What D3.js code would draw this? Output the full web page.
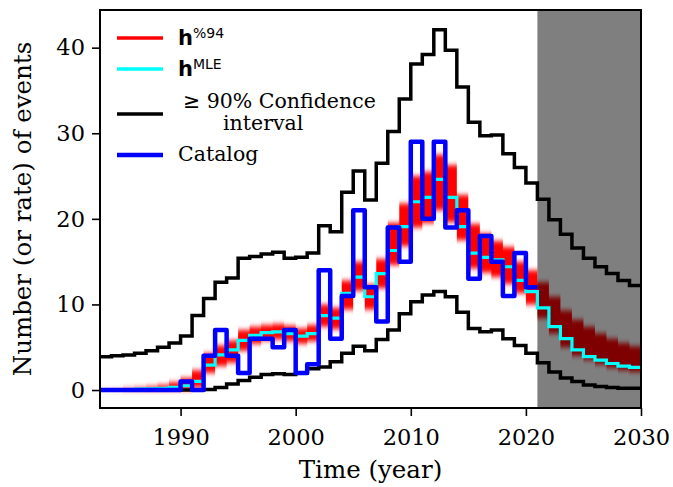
<!DOCTYPE html>
<html>
<head>
<meta charset="utf-8">
<script src="https://cdn.jsdelivr.net/npm/d3@7"></script>
<style>
  body { margin: 0; background: #fff; }
  svg text { fill: #000; }
  .serif { font-family: "DejaVu Serif", serif; }
  .sans { font-family: "DejaVu Sans", sans-serif; }
</style>
</head>
<body>
<svg id="chart" width="673" height="487"></svg>
<script>
// yearly bins, 1983 .. 2029 (last step runs to 2030)
const years = d3.range(1983, 2030);

const upperCI = [3.9, 4.0, 4.1, 4.3, 4.6, 5.0, 5.5, 6.3, 8.7, 10.7,
  12.6, 13.1, 15.4, 15.6, 15.9, 16.1, 15.4, 15.5, 16.0, 19.2,
  18.5, 23.1, 25.6, 22.2, 26.5, 30.2, 34.0, 38.1, 39.2, 42.1,
  39.7, 35.4, 31.3, 29.7, 29.8, 27.6, 26.0, 24.2, 22.3, 19.9,
  18.2, 16.6, 15.4, 14.4, 13.6, 12.8, 12.2];

const lowerCI = [0, 0, 0, 0, 0, 0, 0, 0, 0, 0.05,
  0.3, 0.7, 1.1, 1.5, 1.8, 1.9, 1.8, 2.0, 2.5, 2.7,
  3.3, 4.3, 5.1, 4.6, 5.9, 7.0, 8.9, 10.3, 11.1, 11.5,
  10.9, 9.1, 7.2, 6.8, 7.0, 6.0, 5.2, 4.3, 3.2, 2.1,
  1.4, 1.0, 0.6, 0.4, 0.3, 0.2, 0.2];

const mle = [0, 0, 0.05, 0.1, 0.15, 0.2, 0.3, 0.5, 1.0, 2.9,
  4.1, 4.7, 5.8, 6.4, 6.7, 6.8, 6.6, 6.3, 6.6, 8.7,
  8.4, 11.3, 13.2, 10.9, 13.6, 16.3, 19.1, 22.0, 22.5, 24.6,
  22.5, 19.1, 16.0, 15.5, 15.2, 14.4, 12.8, 11.5, 9.6, 7.4,
  6.0, 4.7, 3.9, 3.5, 3.1, 2.8, 2.65];

// spread of the sampled rates (h %94)
const bandHi = [0.05, 0.1, 0.2, 0.3, 0.4, 0.6, 0.9, 1.4, 2.3, 4.3,
  5.2, 5.8, 7.0, 7.4, 7.6, 7.7, 7.5, 7.2, 7.6, 10.0,
  9.6, 12.8, 15.0, 12.3, 15.3, 19.5, 21.8, 25.0, 25.5, 27.5,
  26.3, 22.8, 19.4, 18.3, 17.4, 16.7, 15.0, 14.0, 12.6, 10.9,
  9.3, 8.2, 7.4, 6.6, 6.0, 5.5, 5.1];
const bandLo = [0, 0, 0, 0, 0, 0, 0, 0, 0.3, 2.0,
  2.8, 3.2, 4.6, 5.4, 5.8, 5.9, 5.7, 5.4, 5.7, 7.4,
  7.1, 9.4, 11.6, 9.4, 11.9, 14.6, 16.8, 19.0, 19.5, 21.0,
  19.6, 17.5, 14.2, 13.7, 13.2, 12.4, 11.3, 10.0, 8.4, 6.6,
  5.0, 4.0, 3.5, 3.0, 2.6, 2.3, 2.1];

// observed counts 1983 .. 2020
const catalog = [0, 0, 0, 0, 0, 0, 0, 1, 0, 4,
  7, 4, 2, 6, 6, 5, 7, 2, 3, 14,
  6, 11, 21, 12, 8, 19, 15, 29, 20, 29,
  19, 21, 13, 18, 15, 11, 16, 12];

const xTicks = [1990, 2000, 2010, 2020, 2030];
const yTicks = [0, 10, 20, 30, 40];
const forecastStart = 2021, endYear = 2030;

const margin = {left: 100, right: 32, top: 10, bottom: 79};
const width = 673, height = 487;
const innerW = width - margin.left - margin.right;
const innerH = height - margin.top - margin.bottom;

const svg = d3.select("#chart");
const x = d3.scaleLinear().domain([1983, endYear]).range([0, innerW]);
const y = d3.scaleLinear().domain([-2.1, 44.4]).range([innerH, 0]);

const defs = svg.append("defs");
defs.append("clipPath").attr("id", "clip")
  .append("rect").attr("width", innerW).attr("height", innerH);
defs.append("filter").attr("id", "fuzz")
  .attr("x", "-5%").attr("y", "-30%").attr("width", "110%").attr("height", "160%")
  .append("feGaussianBlur").attr("stdDeviation", "0 2.4");

const g = svg.append("g").attr("transform", `translate(${margin.left},${margin.top})`);
const plot = g.append("g").attr("clip-path", "url(#clip)");

// values -> step points, last one carried to the end year
function steps(vals, end) {
  const pts = vals.map((v, i) => ({t: years[i], v: v}));
  pts.push({t: end, v: vals[vals.length - 1]});
  return pts;
}

const line = d3.line().curve(d3.curveStepAfter).x(d => x(d.t)).y(d => y(d.v));

const bandPts = bandHi.map((v, i) => ({t: years[i], hi: v, lo: bandLo[i]}));
bandPts.push({t: endYear, hi: bandHi[bandHi.length - 1], lo: bandLo[bandLo.length - 1]});
const area = d3.area().curve(d3.curveStepAfter)
  .x(d => x(d.t)).y0(d => y(d.lo)).y1(d => y(d.hi));

plot.append("path").datum(bandPts)
  .attr("d", area).attr("fill", "#ff0000")
  .attr("filter", "url(#fuzz)");

// forecast period
plot.append("rect")
  .attr("x", x(forecastStart)).attr("y", 0)
  .attr("width", x(endYear) - x(forecastStart)).attr("height", innerH)
  .attr("fill", "#000").attr("fill-opacity", 0.5);

[upperCI, lowerCI].forEach(vals => {
  plot.append("path").datum(steps(vals, endYear))
    .attr("d", line).attr("fill", "none")
    .attr("stroke", "#000").attr("stroke-width", 3.5);
});

plot.append("path").datum(steps(mle, endYear))
  .attr("d", line).attr("fill", "none")
  .attr("stroke", "#00ffff").attr("stroke-width", 3.2);

plot.append("path").datum(steps(catalog, forecastStart))
  .attr("d", line).attr("fill", "none")
  .attr("stroke", "#0000ff").attr("stroke-width", 4.5)
  .attr("stroke-linejoin", "round");

// axes
const xAxis = g.append("g").attr("transform", `translate(0,${innerH})`)
  .call(d3.axisBottom(x).tickValues(xTicks).tickFormat(d3.format("d")).tickSize(8).tickPadding(8));
const yAxis = g.append("g")
  .call(d3.axisLeft(y).tickValues(yTicks).tickSize(8).tickPadding(7));
[xAxis, yAxis].forEach(a => {
  a.select(".domain").remove();
  a.selectAll(".tick line").attr("stroke", "#000").attr("stroke-width", 1.6);
  a.selectAll(".tick text").attr("class", "serif").attr("font-size", 22.5).attr("fill", "#000");
});
xAxis.selectAll(".tick text").attr("dy", "0.95em");

g.append("rect").attr("width", innerW).attr("height", innerH)
  .attr("fill", "none").attr("stroke", "#000").attr("stroke-width", 2);

svg.append("text").attr("class", "serif")
  .attr("x", margin.left + innerW / 2).attr("y", 478)
  .attr("text-anchor", "middle").attr("font-size", 24.5)
  .text("Time (year)");
svg.append("text").attr("class", "serif")
  .attr("transform", `translate(31,${margin.top + innerH / 2}) rotate(-90)`)
  .attr("text-anchor", "middle").attr("font-size", 24.5)
  .text("Number (or rate) of events");

// legend
const legend = svg.append("g");
const legendLines = [
  {y: 38, color: "#ff0000", w: 3.5},
  {y: 69, color: "#00ffff", w: 3.5},
  {y: 114, color: "#000000", w: 3.5},
  {y: 155, color: "#0000ff", w: 4.5}
];
legendLines.forEach(d => {
  legend.append("line").attr("x1", 117).attr("x2", 163)
    .attr("y1", d.y).attr("y2", d.y)
    .attr("stroke", d.color).attr("stroke-width", d.w);
});

function hLabel(yBase, sup) {
  const t = legend.append("text").attr("class", "sans").attr("x", 178).attr("y", yBase);
  t.append("tspan").attr("font-weight", "bold").attr("font-size", 21).text("h");
  t.append("tspan").attr("font-size", 14).attr("dy", -7).text(sup);
}
hLabel(45, "%94");
hLabel(76, "MLE");

const ci = legend.append("text").attr("x", 183).attr("y", 108);
ci.append("tspan").attr("class", "sans").attr("font-size", 20.5).text("\u2265");
ci.append("tspan").attr("class", "serif").attr("font-size", 20.5).text(" 90% Confidence");
legend.append("text").attr("class", "serif").attr("x", 223).attr("y", 130)
  .attr("font-size", 20.5).text("interval");
legend.append("text").attr("class", "serif").attr("x", 178).attr("y", 161)
  .attr("font-size", 20.5).text("Catalog");
</script>
</body>
</html>
